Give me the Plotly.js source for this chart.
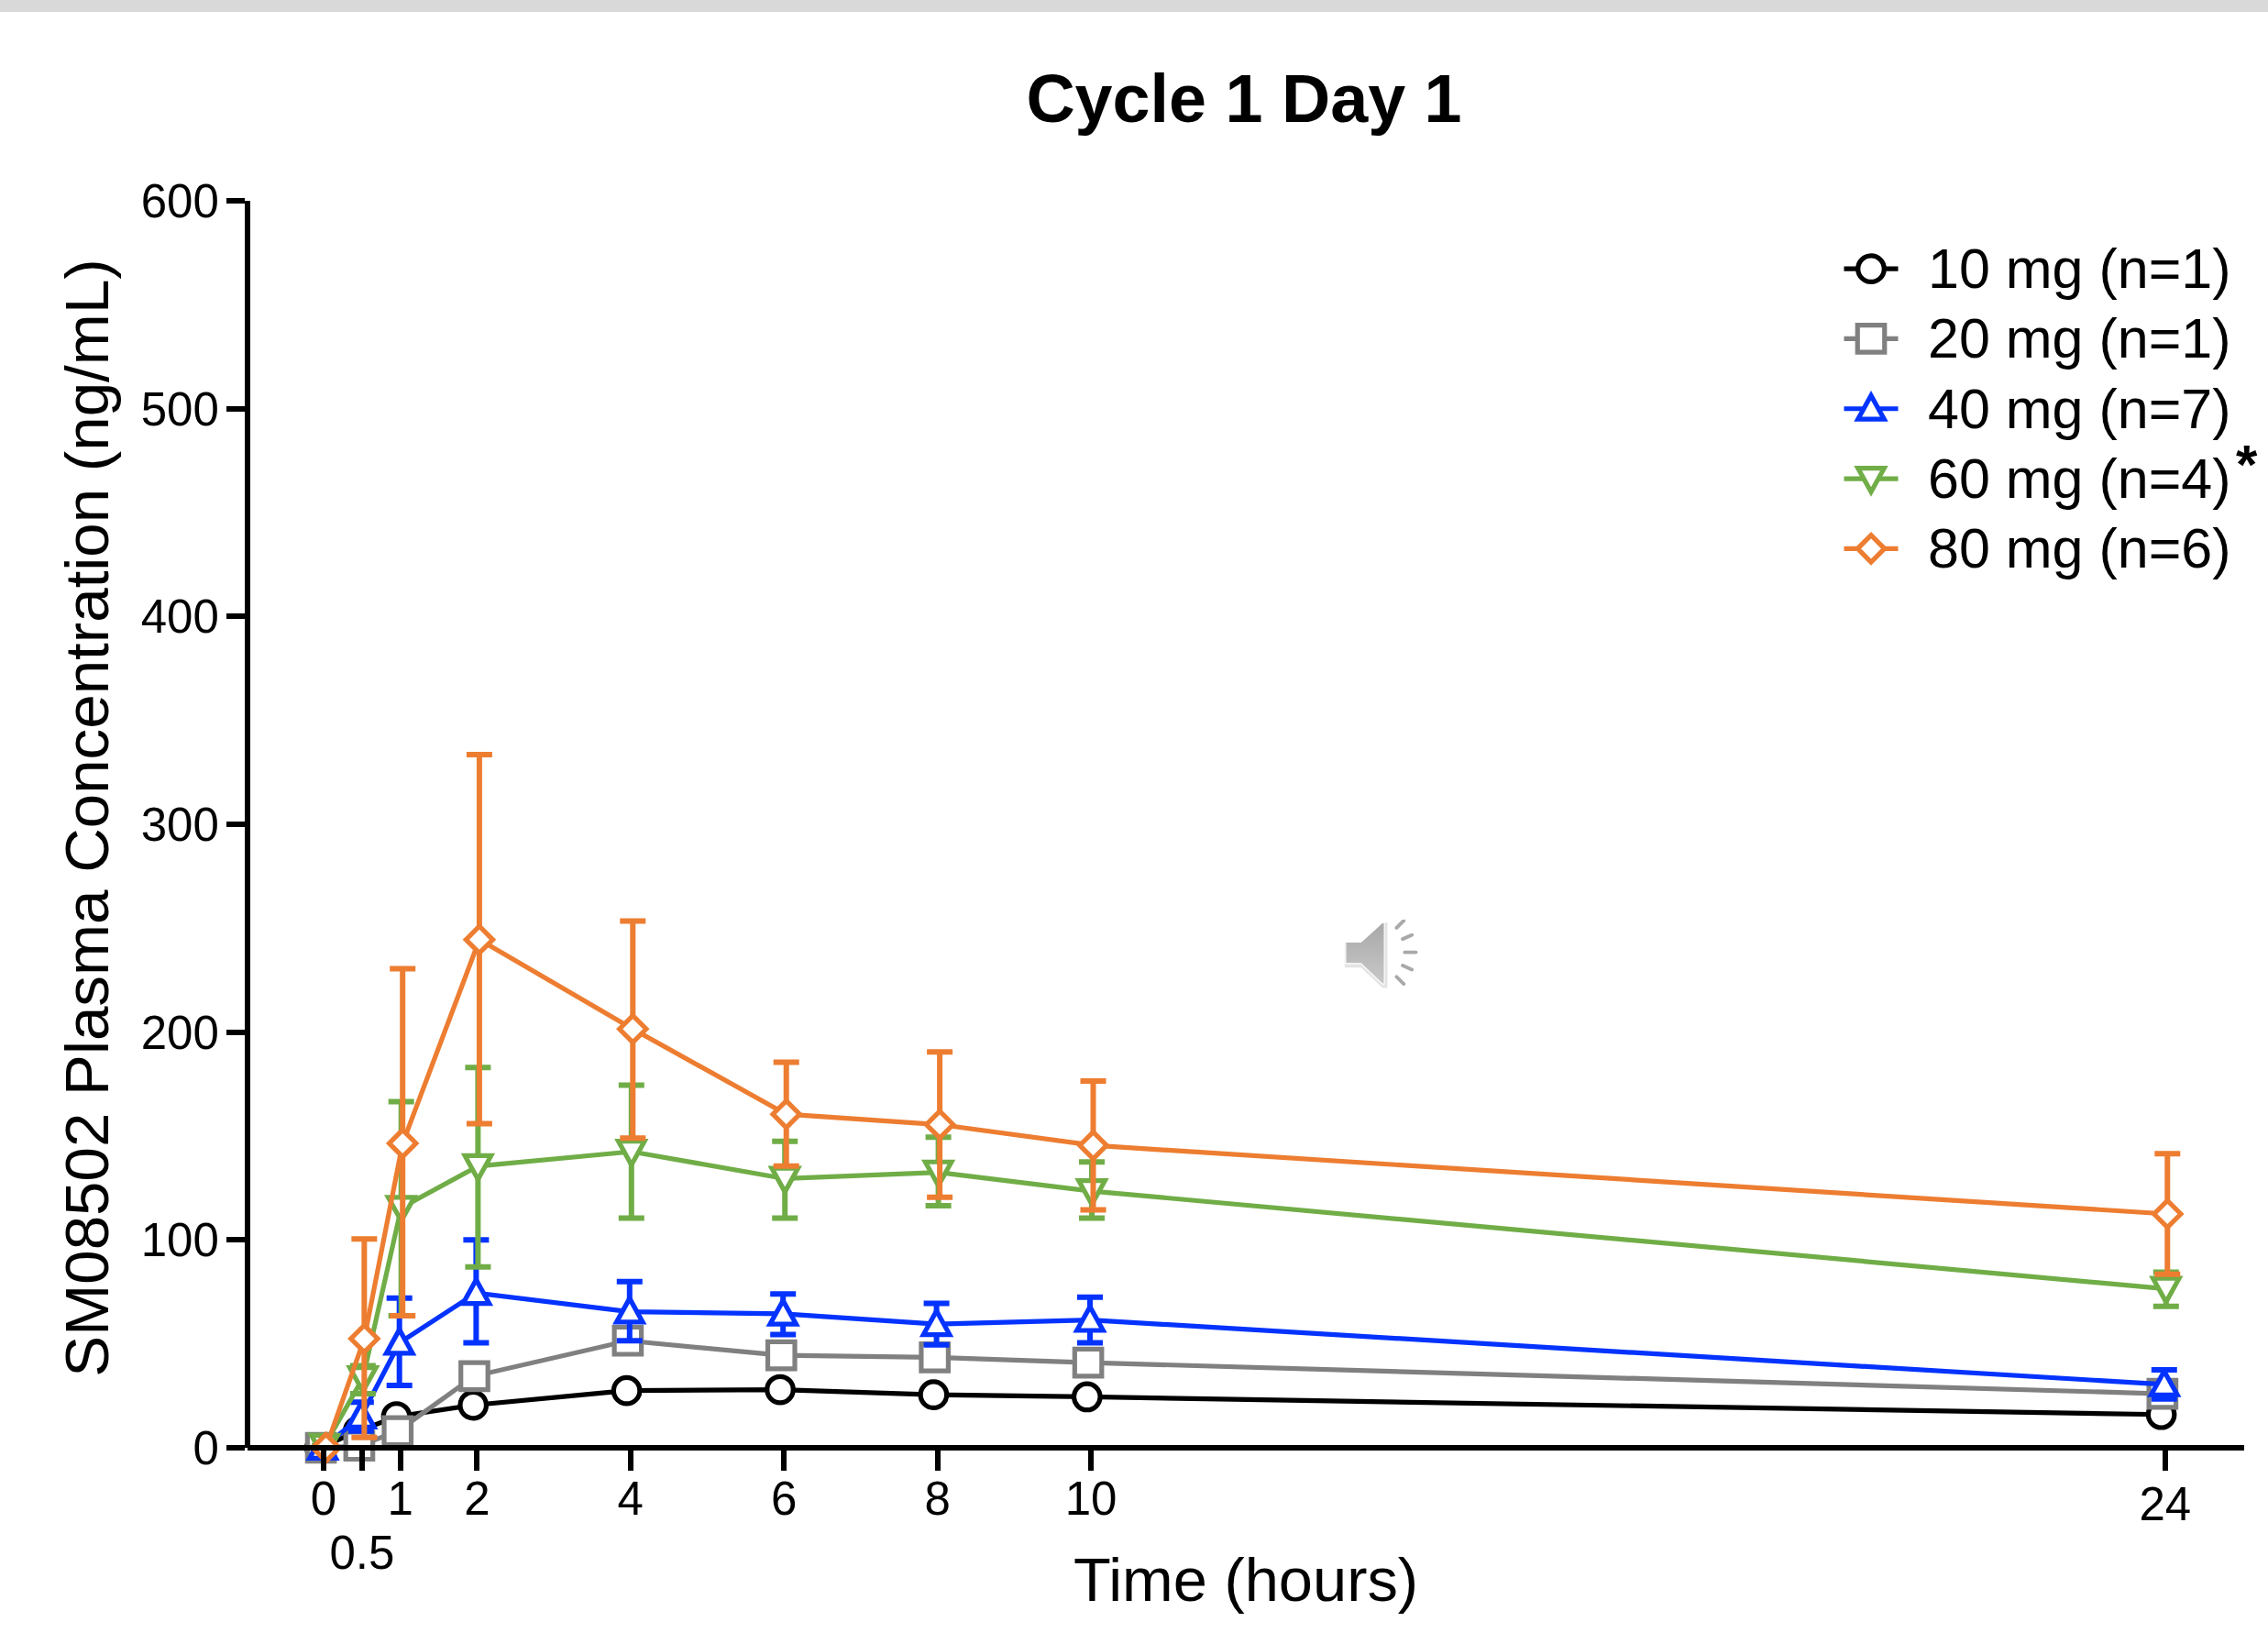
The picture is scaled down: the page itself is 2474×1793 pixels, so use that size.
<!DOCTYPE html>
<html>
<head>
<meta charset="utf-8">
<script src="https://cdn.plot.ly/plotly-3.0.1.min.js"></script>
<style>html,body{margin:0;padding:0;background:#fff}#chart{width:2474px;height:1793px}</style>
</head>
<body>
<div id="chart"></div>
<script>
const time = [0, 0.5, 1, 2, 4, 6, 8, 10, 24];
const tickLabels = ['0', '<br>0.5', '1', '2', '4', '6', '8', '10', '24'];

const names = ['10 mg (n=1)', '20 mg (n=1)', '40 mg (n=7)', '60 mg (n=4)', '80 mg (n=6)'];
const colors = ['#000000', '#808080', '#0433ff', '#70ad47', '#ed7d31'];
const symbols = ['circle', 'square', 'triangle-up', 'triangle-down', 'diamond'];
const sizes = [28.5, 29.5, 24, 24, 22.5];
const nudge = [-0.05, -0.035, -0.012, 0.012, 0.03];
const LW = 5.2;

const mean10 = [0, 8, 15, 20.5, 27.5, 28, 25.5, 24.5, 16];
const mean20 = [0, 1, 8, 34.5, 51.5, 44.5, 43.5, 41, 26];
const mean40 = [0, 15, 50.5, 74.5, 65.5, 64.5, 59.5, 61.5, 30.5];
const upper40 = [0, 22, 72, 100, 80, 74, 69.5, 72.5, 37.5];
const lower40 = [0, 8, 30, 50.5, 51.5, 54.5, 49.5, 50.5, 23.5];
const mean60 = [1, 33.5, 115.5, 135.5, 142.5, 129.5, 132.5, 123.5, 76.5];
const upper60 = [1, 39.5, 166.5, 183, 174.5, 147.5, 149.5, 137.5, 84.5];
const lower60 = [1, 26, 63.5, 87, 110.5, 110.5, 116.5, 110.5, 68];
const mean80 = [0, 52.5, 146.5, 244.5, 201.5, 160.5, 155.5, 145.5, 112.5];
const upper80 = [0, 100.5, 230.5, 333.5, 253.5, 185.5, 190.5, 176.5, 141.5];
const lower80 = [0, 5, 63.5, 156, 149, 135.5, 120.5, 114.5, 83.5];

const means = [mean10, mean20, mean40, mean60, mean80];
const uppers = [null, null, upper40, upper60, upper80];
const lowers = [null, null, lower40, lower60, lower80];

const FONT = '"Liberation Sans", Arial, sans-serif';

const traces = names.map((name, i) => {
  const t = {
    type: 'scatter', mode: 'lines+markers', name: name,
    x: time.map(v => v + nudge[i]), y: means[i], cliponaxis: false,
    line: {color: colors[i], width: LW},
    marker: {symbol: symbols[i], size: sizes[i], color: '#ffffff', line: {color: colors[i], width: LW}}
  };
  if (uppers[i]) {
    t.error_y = {
      type: 'data', symmetric: false, visible: true,
      array: uppers[i].map((u, k) => u - means[i][k]),
      arrayminus: lowers[i].map((l, k) => means[i][k] - l),
      color: colors[i], thickness: 6, width: 14
    };
  }
  return t;
});

const speaker = 'data:image/svg+xml,' + encodeURIComponent(
  '<svg xmlns="http://www.w3.org/2000/svg" viewBox="0 0 90 80" width="90" height="80">' +
  '<defs><linearGradient id="g" x1="0" y1="0" x2="0" y2="1"><stop offset="0" stop-color="#a8a8a8"/><stop offset="1" stop-color="#c8c8c8"/></linearGradient></defs>' +
  '<g stroke="#e4e4e4" stroke-width="4" stroke-linecap="round" transform="translate(1,2)" fill="#e4e4e4">' +
  '<path d="M8 22h15l21-19h2v60h-2L23 43H8z"/></g>' +
  '<path d="M8 22h15l21-19h2v60h-2L23 43H8z" fill="url(#g)" stroke="#ffffff" stroke-width="1"/>' +
  '<g stroke="#a9a9a9" stroke-width="3.5" stroke-linecap="round">' +
  '<path d="M58 8l7-7M64 19l9-4M66 32h11M64 45l9 4M58 56l7 7"/></g></svg>');

const layout = {
  width: 2474, height: 1793,
  margin: {l: 270, r: 26, t: 219, b: 214, pad: 0},
  paper_bgcolor: '#ffffff', plot_bgcolor: '#ffffff',
  font: {family: FONT, color: '#000000'},
  title: {text: '<b>Cycle 1 Day 1</b>', font: {family: FONT, size: 73.7, color: '#000000'},
          x: 1357 / 2474, xref: 'container', xanchor: 'center', y: 1 - 107 / 1793, yref: 'container', yanchor: 'middle'},
  xaxis: {
    range: [-0.9916, 25.03], anchor: 'free', position: 0,
    tickmode: 'array', tickvals: time, ticktext: tickLabels, tickangle: 0,
    showgrid: false, zeroline: false, showline: true, linecolor: '#000', linewidth: 6,
    ticks: 'outside', ticklen: 22, tickwidth: 6, tickcolor: '#000',
    ticklabelstandoff: -13,
    tickfont: {family: FONT, size: 51, color: '#000'},
    title: {text: 'Time (hours)', font: {family: FONT, size: 66.8, color: '#000'}, standoff: 10}
  },
  yaxis: {
    range: [0, 600], anchor: 'free', position: 0,
    tickmode: 'array', tickvals: [0, 100, 200, 300, 400, 500, 600],
    showgrid: false, zeroline: false, showline: true, linecolor: '#000', linewidth: 6,
    ticks: 'outside', ticklen: 20, tickwidth: 6, tickcolor: '#000',
    ticklabelstandoff: -2,
    tickfont: {family: FONT, size: 51, color: '#000'},
    title: {text: 'SM08502 Plasma Concentration (ng/mL)', font: {family: FONT, size: 67.3, color: '#000'}}
  },
  legend: {
    x: (1979 - 270) / 2178, xanchor: 'left', y: (1579 - 247) / 1360, yanchor: 'top',
    font: {family: FONT, size: 61, color: '#000'},
    itemwidth: 114, borderwidth: 0, bgcolor: 'rgba(0,0,0,0)', traceorder: 'normal'
  },
  shapes: [{
    type: 'rect', xref: 'paper', yref: 'paper', layer: 'below',
    x0: -270 / 2178, x1: (2474 - 270) / 2178, y0: (1579 - 13) / 1360, y1: 1579 / 1360,
    fillcolor: '#d9d9d9', line: {width: 0}
  }],
  annotations: [{
    text: '<b>*</b>', xref: 'paper', yref: 'paper', showarrow: false,
    x: (2451 - 270) / 2178, y: (1579 - 506) / 1360, xanchor: 'center', yanchor: 'middle',
    font: {family: FONT, size: 60, color: '#000'}
  }],
  images: [{
    source: speaker, xref: 'paper', yref: 'paper', layer: 'above', sizing: 'stretch',
    x: (1459 - 270) / 2178, y: (1579 - 1003) / 1360, sizex: 100 / 2178, sizey: 89 / 1360,
    xanchor: 'left', yanchor: 'top'
  }]
};

// Plotly caps legend glyphs and draws squat triangles: bring them to the reference's proportions.
function triangle(r, dir) {
  const w = (1.19 * r).toFixed(2), b = (0.95 * r).toFixed(2), a = (1.2 * r).toFixed(2);
  return dir > 0 ? `M-${w},${b}H${w}L0,-${a}Z` : `M-${w},-${b}H${w}L0,${a}Z`;
}
function addShift(el, dx, dy) {
  el.setAttribute('transform', `translate(${dx},${dy}) ` + (el.getAttribute('transform') || ''));
}
function refine(gd) {
  const plotted = gd.querySelectorAll('.scatterlayer .trace');
  symbols.forEach((s, i) => {
    if (!s.startsWith('triangle') || !plotted[i]) return;
    plotted[i].querySelectorAll('path.point').forEach(p => {
      p.setAttribute('d', triangle(sizes[i] / 2, s === 'triangle-up' ? 1 : -1));
    });
  });
  let firstY = null;
  gd.querySelectorAll('.legend .traces').forEach((g, i) => {
    const tr = (g.getAttribute('transform') || '').match(/translate\(\s*([-\d.]+)[ ,]+([-\d.]+)/);
    if (tr) {
      if (firstY === null) firstY = +tr[2];
      g.setAttribute('transform', `translate(${tr[1]},${firstY + i * 76.3})`);
    }
    const text = g.querySelector('.legendtext');
    if (text) addShift(text, 0, -3);
    const line = g.querySelector('.legendlines path');
    if (line) { line.setAttribute('d', 'M32.5,0h59'); line.style.strokeWidth = LW + 'px'; }
    const pt = g.querySelector('.legendpoints path');
    if (pt) {
      if (symbols[i].startsWith('triangle')) pt.setAttribute('d', triangle(8, symbols[i] === 'triangle-up' ? 1 : -1));
      const k = sizes[i] / 16;
      pt.setAttribute('transform', (pt.getAttribute('transform') || '') + ' scale(' + k + ')');
      pt.style.strokeWidth = (LW / k) + 'px';
    }
  });
  const yt = gd.querySelector('.ytitle');
  if (yt) addShift(yt, -2, -7);
  const xt = gd.querySelector('.xtitle');
  if (xt) addShift(xt, 0, -33);
  const xticks = gd.querySelectorAll('.xtick text');
  if (xticks.length) {
    addShift(xticks[1], 0, -8);
    addShift(xticks[xticks.length - 1], 0, 6);
  }
}

const gd = document.getElementById('chart');
Plotly.newPlot(gd, traces, layout, {displayModeBar: false, staticPlot: true}).then(() => refine(gd));
</script>
</body>
</html>
